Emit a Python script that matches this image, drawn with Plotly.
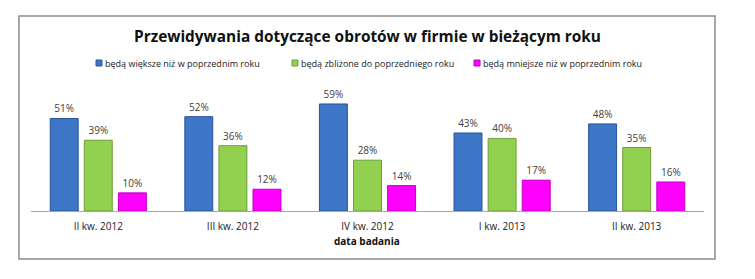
import plotly.graph_objects as go

categories = ["II kw. 2012", "III kw. 2012", "IV kw. 2012", "I kw. 2013", "II kw. 2013"]
series_names = ["będą większe niż w poprzednim roku",
                "będą zbliżone do poprzedniego roku",
                "będą mniejsze niż w poprzednim roku"]
wieksze = [51, 52, 59, 43, 48]
zblizone = [39, 36, 28, 40, 35]
mniejsze = [10, 12, 14, 17, 16]

colors = ["#3D76C6", "#92D050", "#FF00FF"]
lines = ["#2A5699", "#6E9E3A", "#C000C0"]

fig = go.Figure()
for name, vals, c, lc in zip(series_names, [wieksze, zblizone, mniejsze], colors, lines):
    fig.add_trace(go.Bar(
        x=categories, y=[v / 100 for v in vals], name=name,
        marker=dict(color=c, line=dict(color=lc, width=1)),
        text=[f"{v}%" for v in vals], textposition="outside",
        textfont=dict(size=10, color="#404040", family="Open Sans"),
        cliponaxis=False, showlegend=False,
    ))

W, H = 755, 279
L, R, T, B = 31, 51, 84, 68
pw = W - L - R
ph = H - T - B

def px(x):
    return (x - L) / pw

def py(y):
    return (H - B - y) / ph

legend_x = [96, 292, 474]
legend_y = 63
shapes = [dict(type="rect", xref="paper", yref="paper",
               x0=px(19), x1=px(715), y0=py(259), y1=py(16),
               line=dict(color="#8C8C8C", width=1.5))]
annotations = [
    dict(text="<b>Przewidywania dotyczące obrotów w firmie w bieżącym roku</b>",
         xref="paper", yref="paper", x=px(367), y=py(36), showarrow=False,
         xanchor="center", yanchor="middle", font=dict(size=15.4, color="#111111")),
    dict(text="<b>data badania</b>", xref="paper", yref="paper", x=px(367), y=py(241),
         showarrow=False, xanchor="center", yanchor="middle",
         font=dict(size=10, color="#111111")),
]
for name, c, lc, lx in zip(series_names, colors, lines, legend_x):
    shapes.append(dict(type="rect", xref="paper", yref="paper",
                       x0=px(lx), x1=px(lx + 6), y0=py(legend_y + 3), y1=py(legend_y - 3),
                       fillcolor=c, line=dict(color=lc, width=1)))
    annotations.append(dict(text=name, xref="paper", yref="paper", x=px(lx + 7),
                            y=py(legend_y), showarrow=False, xanchor="left",
                            yanchor="middle", font=dict(size=9, color="#222222")))

fig.update_layout(
    width=W, height=H,
    margin=dict(l=L, r=R, t=T, b=B),
    paper_bgcolor="white", plot_bgcolor="white",
    barmode="group", bargap=0.24, bargroupgap=0.18,
    font=dict(family="Open Sans", color="#222222"),
    showlegend=False,
    xaxis=dict(showline=True, linecolor="#A6A6A6", linewidth=1, ticks="",
               ticklabelstandoff=6,
               tickfont=dict(size=10, color="#222222"), fixedrange=True),
    yaxis=dict(range=[0, 0.7], visible=False, showgrid=False, fixedrange=True),
    shapes=shapes,
    annotations=annotations,
)

fig.write_html("out.html")
